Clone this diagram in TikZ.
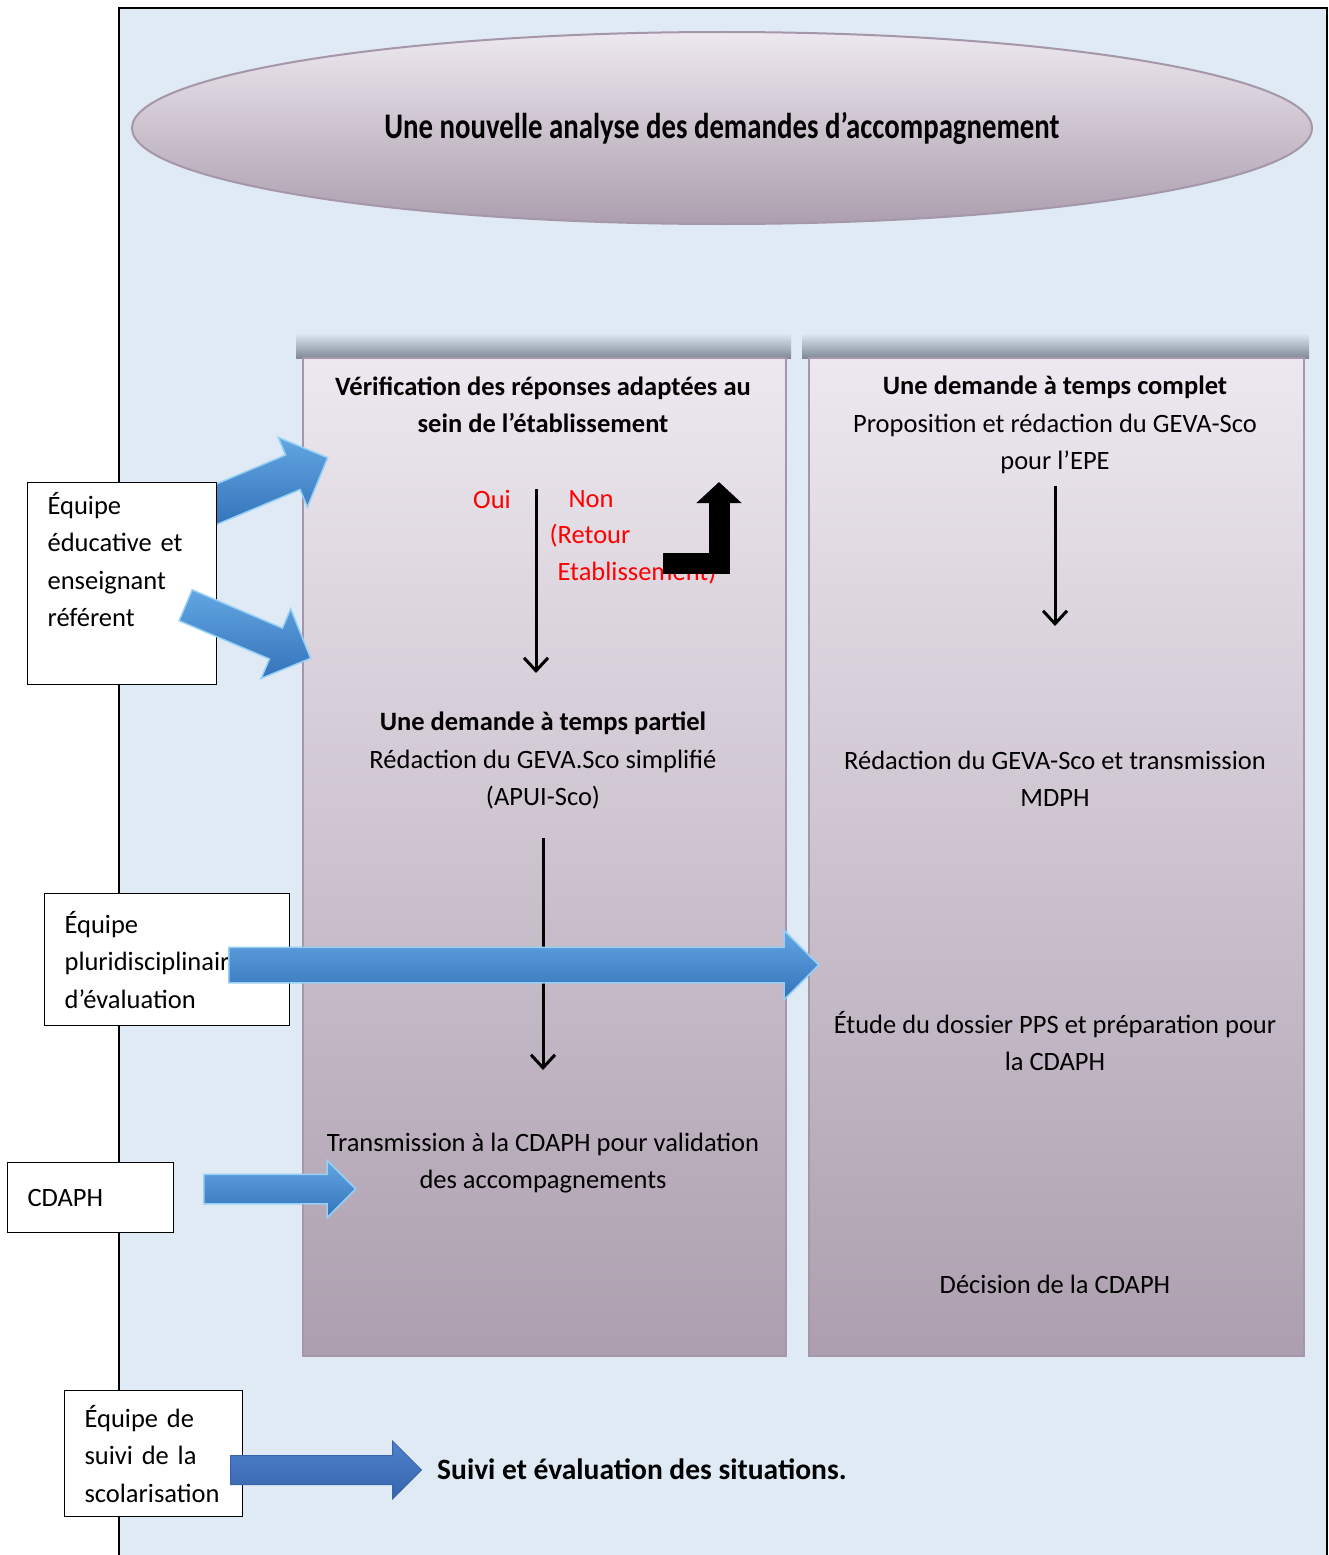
\documentclass[tikz,border=0pt]{standalone}
\usepackage{fontspec}
\setmainfont{Carlito}
\usepackage{tikz}
\usetikzlibrary{arrows.meta,positioning,calc,shapes.geometric,shapes.arrows}

\definecolor{bgblue}{RGB}{223,234,244}
\definecolor{paneltop}{RGB}{237,232,239}
\definecolor{panelbot}{RGB}{172,158,174}
\definecolor{panelline}{RGB}{165,150,170}
\definecolor{shadowgray}{RGB}{128,138,150}
\definecolor{arrowtop}{RGB}{98,166,226}
\definecolor{arrowbot}{RGB}{52,115,186}
\definecolor{arrowrim}{RGB}{150,208,245}
\definecolor{suivitop}{RGB}{78,130,204}
\definecolor{suivibot}{RGB}{55,100,172}

% block arrow from one named point to another
\newcommand{\blockarrow}[4]{%
  \path let \p1=($(#4)-(#3)$), \n1={atan2(\y1,\x1)}, \n2={veclen(\x1,\y1)} in
    node[#1, minimum height=\n2, rotate=\n1, anchor=tail] (#2) at (#3) {};}

\begin{document}
\begin{tikzpicture}[x=1pt, y=-1pt,
    txt/.style={font=\fontsize{26.5}{37.5}\selectfont, align=center, inner sep=0pt},
    txtb/.style={font=\fontsize{26.5}{37.5}\selectfont\bfseries, align=center, inner sep=0pt},
    panel/.style={draw=panelline, line width=1.5pt, top color=paneltop, bottom color=panelbot,
        inner sep=0pt, anchor=north west},
    sidebox/.style={draw=black, line width=1.2pt, fill=white, align=left, inner xsep=20pt,
        inner ysep=0pt, anchor=north west, font=\fontsize{26.5}{37.5}\selectfont},
    flowarrow/.style={line width=3pt, -{Straight Barb[length=13pt,width=24pt]}},
    bluearrow/.style 2 args={single arrow, inner xsep=0pt, inner ysep=#1,
        single arrow head extend=#2, top color=arrowtop, bottom color=arrowbot,
        draw=arrowrim, line width=1.5pt},
    suiviarrow/.style 2 args={single arrow, inner xsep=0pt, inner ysep=#1,
        single arrow head extend=#2, top color=suivitop, bottom color=suivibot,
        draw=suivibot, line width=1pt}]
    \useasboundingbox (0,0) rectangle (1329,1555);

    % Background frame
    \fill[bgblue] (119,8) rectangle (1327,1560);
    \draw[line width=1.5pt] (119,1560) -- (119,8) -- (1327,8) -- (1327,1560);

    % Title
    \node[ellipse, minimum width=1180, minimum height=192, inner sep=0pt,
        draw=panelline, line width=2pt, top color=paneltop, bottom color=panelbot] (title) at (722,128)
        {\fontsize{36}{40}\selectfont\bfseries\scalebox{0.8}[1]{Une nouvelle analyse des demandes d’accompagnement}};

    % Columns
    \shade[top color=bgblue, bottom color=shadowgray] (296,333) rectangle (791,358);
    \shade[top color=bgblue, bottom color=shadowgray] (802,333) rectangle (1309,358);
    \node[panel, minimum width=483, minimum height=998] (leftcol) at (302,357) {};
    \node[panel, minimum width=495, minimum height=998] (rightcol) at (808,357) {};

    % Left column
    \node[txtb] (verif) at (543,405) {Vérification des réponses adaptées au\\sein de l’établissement};
    \node[txt, text=red] (oui) at (492,499) {Oui};
    \node[txt, text=red] (non) at (591,499) {Non};
    \node[txt, text=red] (retour) at (590,536) {(Retour};
    \node[txt, text=red] (etab) at (637,573) {Etablissement)};
    \node[txt] (partiel) at (543,761) {{\bfseries Une demande à temps partiel}\\Rédaction du GEVA.Sco simplifié\\(APUI-Sco)};
    \node[txt] (transm) at (543,1163) {Transmission à la CDAPH pour validation\\des accompagnements};

    \coordinate (ouiA) at (536,489);
    \coordinate (ouiB) at (536,673);
    \draw[flowarrow] (ouiA) -- (ouiB);
    \coordinate (partA) at (543,838);
    \coordinate (partB) at (543,1070);
    \draw[flowarrow] (partA) -- (partB);

    \coordinate (retA) at (663,563);
    \coordinate (retB) at (719,482);
    \draw[line width=21pt, -{Triangle[length=21pt,width=44pt]}] (retA) -| (retB);

    % Right column
    \node[txt] (complet) at (1055,425) {{\bfseries Une demande à temps complet}\\Proposition et rédaction du GEVA-Sco\\pour l’EPE};
    \node[txt] (mdph) at (1055,779) {Rédaction du GEVA-Sco et transmission\\MDPH};
    \node[txt] (etude) at (1055,1041) {Étude du dossier PPS et préparation pour\\la CDAPH};
    \node[txt] (decision) at (1055,1284) {Décision de la CDAPH};

    \coordinate (compA) at (1055,486);
    \coordinate (compB) at (1055,626);
    \draw[flowarrow] (compA) -- (compB);

    % Actors
    \coordinate (aTail) at (205,509);
    \coordinate (aTip) at (327,458);
    \blockarrow{bluearrow={18pt}{19pt}}{arrA}{aTail}{aTip}
    \node[sidebox, text width=149, minimum height=202] (educ) at (27,482)
        {Équipe\\éducative et\\enseignant\\référent\\\strut};
    \coordinate (bTail) at (185,605);
    \coordinate (bTip) at (310,658);
    \blockarrow{bluearrow={16pt}{21pt}}{arrB}{bTail}{bTip}

    \node[sidebox, text width=205, minimum height=132] (pluri) at (44,893)
        {Équipe\\pluridisciplinaire\\d’évaluation};
    \coordinate (cTail) at (228,965);
    \coordinate (cTip) at (818,965);
    \blockarrow{bluearrow={17pt}{17pt}}{arrC}{cTail}{cTip}

    \node[sidebox, text width=126, minimum height=70] (cdaph) at (7,1162) {CDAPH};
    \coordinate (dTail) at (203,1189);
    \coordinate (dTip) at (355,1189);
    \blockarrow{bluearrow={14pt}{14pt}}{arrD}{dTail}{dTip}

    \node[sidebox, text width=138, minimum height=126] (ess) at (64,1390)
        {Équipe de\\suivi de la\\scolarisation};
    \coordinate (eTail) at (230,1470);
    \coordinate (eTip) at (421,1470);
    \blockarrow{suiviarrow={14pt}{14.5pt}}{arrE}{eTail}{eTip}
    \node[txtb, anchor=west, font=\fontsize{29.5}{37.5}\selectfont\bfseries] (suivi) at (437,1469) {Suivi et évaluation des situations.};
\end{tikzpicture}
\end{document}
